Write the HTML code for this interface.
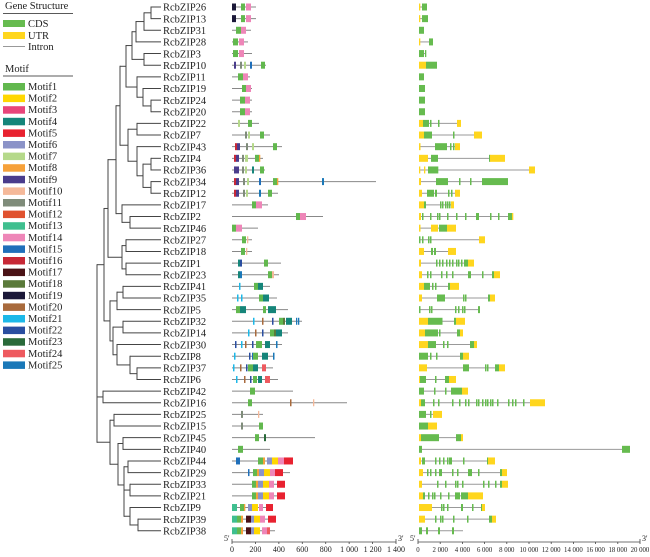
<!DOCTYPE html>
<html><head><meta charset="utf-8"><style>
html,body{margin:0;padding:0;background:#fff;}
svg{display:block;}
text{font-family:"Liberation Serif",serif;fill:#222;}
</style></head><body>
<svg id="s" width="650" height="557" viewBox="0 0 650 557" xmlns="http://www.w3.org/2000/svg">
<g id="leg">
<text x="5" y="9" font-size="10.5">Gene Structure</text>
<line x1="3" y1="13.5" x2="73" y2="13.5" stroke="#222" stroke-width="0.8"/>
<rect x="3" y="20" width="22" height="7" fill="#66bb4f"/><text x="28" y="27" font-size="10.5">CDS</text>
<rect x="3" y="32" width="22" height="7" fill="#ffd61e"/><text x="28" y="39" font-size="10.5">UTR</text>
<line x1="3" y1="46.5" x2="25" y2="46.5" stroke="#999" stroke-width="1"/><text x="28" y="50" font-size="10.5">Intron</text>
<text x="5" y="72" font-size="10.5">Motif</text>
<line x1="3" y1="76" x2="73" y2="76" stroke="#222" stroke-width="0.8"/>
</g>
</svg>
<script>
const NS="http://www.w3.org/2000/svg",S=document.getElementById('s');
function el(t,a,txt){const e=document.createElementNS(NS,t);for(const k in a)e.setAttribute(k,a[k]);if(txt!==undefined)e.textContent=txt;S.appendChild(e);return e;}
const MC=["#62b84e","#ffd700","#e8457a","#15857a","#e82230","#8b93c8","#b5d98a","#f6a13a","#4a3c8c","#f5b99a","#7f8c7a","#e0522f","#3fbf8f","#ee86b8","#1f6fba","#c72836","#4a1216","#5a7a3a","#1b1838","#a86a3c","#1cb8e8","#2a4ea0","#2a6a3a","#ee5a5f","#1a78b8"];
for(let i=0;i<25;i++){const y=83+i*11.6;el('rect',{x:3,y:y,width:22,height:7.5,fill:MC[i]});el('text',{x:28,y:y+7,'font-size':10.5},'Motif'+(i+1));}
const names=[26,13,31,28,3,10,11,19,24,20,22,7,43,4,36,34,12,17,2,46,27,18,1,23,41,35,5,32,14,30,8,37,6,42,16,25,15,45,40,44,29,33,21,9,39,38];
const Y=i=>7+i*11.64;
const idx={};names.forEach((n,i)=>idx[n]=i);
function N(x,...c){return {x,c};}
const T=N(97,
 N(104,
  N(108,
   N(116,
    N(120,
     N(126,
      N(132,N(136,N(144,N(151,26,13),31),28),N(144,3,10)),
      N(137,11,N(143,19,N(151,24,20)))),
     N(128,
      N(137,22,7),
      N(137,43,N(143,N(151,4,36),N(151,34,12))))),
    N(122,17,N(130,2,46))),
   N(122,N(126,27,18),N(126,1,23))),
  N(110,
   N(117,N(123,41,35),5),
   N(113,N(123,32,14),N(117,30,N(130,8,N(137,37,6)))))),
 N(103,42,16),
 N(110,N(114,25,15),N(118,N(123,45,40),N(124,N(128,44,29),N(124,N(130,33,21),N(130,9,N(138,39,38)))))));
const TIP=161;
function draw(n){
 if(typeof n==='number'){return Y(idx[n]);}
 const ys=n.c.map(c=>{const y=draw(c);const x2=(typeof c==='number')?TIP:c.x;el('line',{x1:n.x,y1:y,x2:x2,y2:y,stroke:'#444','stroke-width':1});return y;});
 const a=Math.min(...ys),b=Math.max(...ys);
 el('line',{x1:n.x,y1:a-0.5,x2:n.x,y2:b+0.5,stroke:'#444','stroke-width':1});
 return (a+b)/2;
}
draw(T);
names.forEach((n,i)=>el('text',{x:163,y:Y(i)+3.7,'font-size':10.5},'RcbZIP'+n));
const M={
26:[256,[[232,236,19],[241,245,1],[246,251,14]]],
13:[256,[[232,236,19],[241,245,1],[246,251,14]]],
31:[251,[[236,241,1],[241,246,14]]],
28:[248,[[233,238,1],[239,244,14]]],
3:[252,[[233,238,1],[239,244,14]]],
10:[266,[[234,236,9],[240,242,11],[244,246,7],[250,252,15],[261,265,1]]],
11:[250,[[238,243,1],[243,248,14]]],
19:[252,[[242,246,1],[246,251,14]]],
24:[252,[[240,245,1],[245,250,14]]],
20:[252,[[240,245,1],[245,250,14]]],
22:[259,[[238,240,7],[248,252,1]]],
7:[270,[[245,247,11],[248,250,7],[260,264,1]]],
43:[282,[[235,237,16],[237,240,9],[246,248,11],[252,254,7],[273,277,1]]],
4:[263,[[234,236,16],[236,239,9],[242,244,11],[245,248,7],[255,259,1],[259,260,8]]],
36:[265,[[234,239,9],[242,244,11],[245,247,7],[252,254,4],[260,264,1]]],
34:[376,[[234,236,16],[236,239,9],[243,245,11],[247,249,7],[259,261,15],[273,277,1],[277,278,8],[322,324,25]]],
12:[278,[[234,236,16],[236,239,9],[243,245,11],[246,248,7],[259,261,25],[268,272,1]]],
17:[268,[[252,256,1],[256,262,14]]],
2:[323,[[296,300,1],[300,306,14]]],
46:[258,[[232,236,1],[236,242,14]]],
27:[252,[[242,246,1],[247,248,10]]],
18:[252,[[241,245,1],[246,247,10]]],
1:[281,[[238,240,4],[240,242,22],[264,268,1]]],
23:[279,[[238,240,4],[240,242,25],[268,272,1],[272,274,10]]],
41:[270,[[239,240.5,21],[254,258,1],[258,263,4]]],
35:[277,[[237,238.5,21],[241,242.5,21],[259,263,1],[263,269,4]]],
5:[288,[[236,240,1],[240,246,4],[263,266,1],[268,276,4]]],
32:[302,[[253,254.5,21],[262,263.5,20],[272,273.5,22],[279,283,1],[283,285,18],[286,292,4],[296,297,25],[298,299,25]]],
14:[288,[[248,249.5,21],[255,256.5,20],[262,263.5,22],[270,274,1],[274,276,18],[276,282,4]]],
30:[282,[[235,236.5,22],[241,242.5,21],[245,246.5,20],[252,253.5,22],[256,262,1],[265,270,4],[276,277.5,25]]],
8:[274,[[234,235.5,21],[249,250.5,22],[252,253,15],[253,258,1],[262,268,4],[273,274.5,25]]],
37:[273,[[233,234.5,21],[240,241.5,20],[246,247.5,22],[248,253,1],[253,258,4],[262,266,24]]],
6:[278,[[236,237.5,21],[244,245.5,20],[250,251.5,22],[253,257,1],[258,262,4],[265,270,24]]],
42:[293,[[250,255,1]]],
16:[347,[[248,252,1],[290,291.5,20],[313,314,10]]],
25:[263,[[241,243,11],[258,259,10]]],
15:[263,[[241,243,11],[259,263,1]]],
45:[315,[[255,259,1],[264,266,23]]],
40:[270,[[238,243,1]]],
44:[293,[[236,240,15],[258,263,1],[263,265,8],[267,272,6],[272,278,2],[278,284,14],[284,293,5]]],
29:[290,[[248,249.5,15],[253,257,1],[257,259,8],[259,264,6],[264,270,2],[270,275,14],[275,283,5]]],
33:[285,[[252,256,1],[256,258,8],[258,263,6],[263,269,2],[269,274,14],[277,285,5]]],
21:[285,[[252,256,1],[256,258,8],[258,263,6],[263,269,2],[269,274,14],[277,285,5]]],
9:[273,[[232,237,13],[240,244,1],[244,245,8],[248,252,6],[252,258,2],[259,263,14],[266,273,5]]],
39:[276,[[232,237,13],[237,241,1],[241,243,8],[246,251,17],[251,254,6],[254,260,2],[260,265,14],[268,276,5]]],
38:[275,[[232,237,13],[237,241,1],[241,243,8],[246,251,17],[251,254,6],[254,260,2],[262,267,14],[267,270,24]]]
};
names.forEach((n,i)=>{const d=M[n];const y=Y(i);
 el('line',{x1:232,y1:y,x2:d[0],y2:y,stroke:'#888','stroke-width':1});
 d[1].forEach(s=>el('rect',{x:s[0],y:y-3.5,width:Math.max(1.3,s[1]-s[0]),height:7,fill:MC[s[2]-1]}));
});
const t=(...xs)=>xs.map(x=>[x,x+1.5]);
const G={
26:[419,427,[[419,420,'y'],[422,427]]],
13:[419,428,[[419,420,'y'],[422,428]]],
31:[419,424,[[419,424]]],
28:[419,433,[[419,420,'y'],[429,433]]],
3:[419,426,[[419,424],[425,426]]],
10:[419,437,[[419,426,'y'],[426,435],[435,437]]],
11:[419,424,[[419,424]]],
19:[419,425,[[419,425]]],
24:[419,425,[[419,425]]],
20:[419,425,[[419,425]]],
22:[419,461,[[419,423,'y'],[423,429],...t(430,438),[457,461,'y']]],
7:[419,482,[[419,424,'y'],[424,432],...t(453),[474,482,'y']]],
43:[419,460,[[419,420.5,'y'],[435,447],...t(450,453),[455,460,'y']]],
4:[419,505,[[419,428,'y'],[431,438],[489,490],[490,505,'y']]],
36:[419,535,[[419,420,'y'],[424,425,'y'],[428,437],[437,438],[529,535,'y']]],
34:[419,508,[[419,421,'y'],[436,448],...t(459,470),[482,508]]],
12:[419,460,[[419,422,'y'],[427,434],[435,437],...t(448,451),[455,460,'y']]],
17:[419,454,[[419,424,'y'],[424,426],...t(440,442,445,447,449),[451,454,'y']]],
2:[419,513,[[419,421,'y'],...t(422,430,437,439,447,456,465),[476,479],...t(490,498),[508,512],[512,513,'y']]],
46:[419,456,[[419,420.5,'y'],[431,438,'y'],[439,443],[443,447],[447,456,'y']]],
27:[419,485,[...t(419,422,428,430),[479,485,'y']]],
18:[419,456,[[419,424,'y'],[431,433],[434,436],[448,456,'y']]],
1:[419,474,[[419,421,'y'],...t(436,439,442,446,449,452,456,458,461),[464,468],[468,474,'y']]],
23:[419,500,[[419,422,'y'],...t(427,430,441,446,452),[468,471],...t(482),[492,494],[494,500,'y']]],
41:[419,459,[[419,424,'y'],[424,430],...t(432,435),[448,450],[450,459,'y']]],
35:[419,495,[[419,422,'y'],[437,445],...t(463,465),[488,490],[490,495,'y']]],
5:[419,480,[...t(419,429,431,455,458,462,464),[478,480]]],
32:[419,465,[[419,428,'y'],[428,441],...t(441),[454,456],[456,465,'y']]],
14:[419,463,[[419,425,'y'],[425,438],...t(439),[457,460],[460,463,'y']]],
30:[419,477,[[419,428,'y'],[428,436],...t(443,447),[470,474],[474,477,'y']]],
8:[419,469,[[419,428],...t(430,436),[460,463],[463,469,'y']]],
37:[419,505,[[419,427,'y'],[463,469],...t(485,487),[495,499],[499,505,'y']]],
6:[419,456,[[419,420,'y'],[420,426],...t(435,445),[446,449],[449,456,'y']]],
42:[419,468,[[419,424],...t(434,445),[451,462],[462,468,'y']]],
16:[419,545,[[419,421,'y'],[421,425],...t(433,438,452,459,465,468,476,478,482,485,487,490,492,497,508,512,515,523),[530,545,'y']]],
25:[419,442,[[419,426],...t(430),[433,442,'y']]],
15:[419,437,[[419,428],[428,430,'y'],[430,437,'y']]],
45:[419,463,[[419,421,'y'],[421,439],[456,461],[461,463,'y']]],
40:[419,630,[[419,422],[622,630]]],
44:[419,495,[[419,421,'y'],[422,425],...t(435,439,443,447,449),[450,452],...t(463),[487,488.5],[488,495,'y']]],
29:[419,507,[[419,423,'y'],...t(427,430,435),[439,442],...t(452,457),[468,472],...t(478),[500,502],[502,507,'y']]],
33:[419,508,[[419,422,'y'],...t(437,445,455,457,462,483,488,495),[500,502],[502,508,'y']]],
21:[419,483,[[419,423,'y'],[423,425],...t(428,432,434,440,448),[455,460],[461,464],[464,468],[468,483,'y']]],
9:[419,485,[[419,432,'y'],...t(441,443,447),[461,463],...t(472),[481,482],[482,485,'y']]],
39:[419,496,[[419,425,'y'],...t(435,440,442,453,467),[489,492],[492,496,'y']]],
38:[419,463,[[419,422],[426,428],[438,440],[452,454]]]
};
names.forEach((n,i)=>{const d=G[n];const y=Y(i);
 el('line',{x1:d[0],y1:y,x2:d[1],y2:y,stroke:'#999','stroke-width':1});
 d[2].forEach(s=>el('rect',{x:s[0],y:y-3.5,width:Math.max(1.3,s[1]-s[0]),height:7,fill:s[2]==='y'?'#ffd61e':'#66bb4f'}));
});
function axis(x0,x1,vals,lab,y,fs){
 el('line',{x1:x0,y1:y,x2:x1,y2:y,stroke:'#444','stroke-width':0.8});
 el('line',{x1:x0,y1:y-3,x2:x0,y2:y,stroke:'#444','stroke-width':0.8});
 el('line',{x1:x1,y1:y-3,x2:x1,y2:y,stroke:'#444','stroke-width':0.8});
 vals.forEach((v,k)=>{const x=x0+(x1-x0)*k/(vals.length-1);el('line',{x1:x,y1:y,x2:x,y2:y+2,stroke:'#444','stroke-width':0.8});
  el('text',{x:x,y:y+10,'font-size':fs,'text-anchor':'middle'},lab[k]);});
 el('text',{x:x0-8,y:y-1,'font-size':8},"5'");
 el('text',{x:x1+2,y:y-1,'font-size':8},"3'");
}
axis(232,396,[0,1,2,3,4,5,6,7],["0","200","400","600","800","1 000","1 200","1 400"],542,8);
axis(418,640,[0,1,2,3,4,5,6,7,8,9,10],["0","2 000","4 000","6 000","8 000","10 000","12 000","14 000","16 000","18 000","20 000"],542,6.8);
</script>
</body></html>
